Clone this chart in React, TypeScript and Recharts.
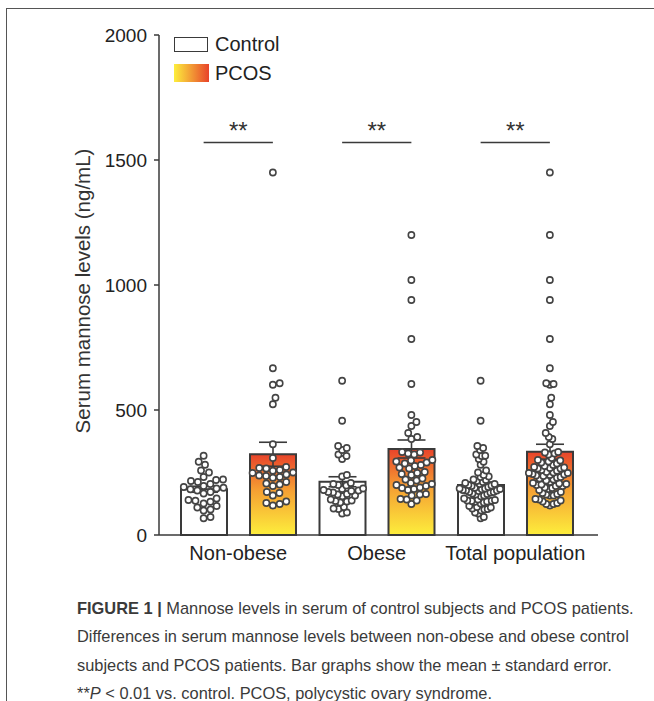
import {
  Bar,
  ComposedChart,
  ErrorBar,
  Legend,
  ReferenceLine,
  Scatter,
  XAxis,
  YAxis,
} from "recharts";

const groups = ["Non-obese", "Obese", "Total population"];
const controlMean = [183, 213, 200];
const controlSem = [12, 20, 12];
const pcosMean = [323, 344, 333];
const pcosSem = [48, 36, 30];

// individual subjects (ng/mL)
const nonObeseControl = [
  317, 293, 281, 258, 250, 232, 222, 216, 212, 220, 204, 192, 186, 196, 183,
  189, 178, 172, 166, 140, 126, 133, 137, 146, 116, 102, 98, 110, 72, 67,
];
const nonObesePcos = [
  1450, 667, 607, 601, 549, 523, 363, 308, 272, 266, 260, 268, 257, 248, 242,
  236, 238, 250, 232, 229, 212, 202, 196, 206, 168, 158, 172, 128, 118, 124,
  134,
];
const obeseControl = [
  617, 457, 356, 348, 340, 322, 316, 304, 240, 234, 208, 204, 200, 198, 184,
  180, 176, 172, 186, 170, 178, 162, 158, 155, 164, 138, 134, 130, 142, 136,
  112, 106, 104, 90, 86,
];
const obesePcos = [
  1200, 1020, 940, 784, 604, 480, 452, 436, 408, 392, 384, 332, 326, 322, 330,
  298, 294, 290, 286, 300, 276, 270, 266, 280, 248, 244, 240, 252, 226, 222,
  218, 208, 204, 200, 196, 188, 184, 180, 190, 164, 158, 162, 144, 138, 142,
  124,
];
const totalControl = [...nonObeseControl, ...obeseControl];
const totalPcos = [...nonObesePcos, ...obesePcos];

const yTicks = [0, 500, 1000, 1500, 2000];
const sigLevel = 1570;

const data = groups.map((g, i) => ({
  group: g,
  control: controlMean[i],
  controlErr: controlSem[i],
  pcos: pcosMean[i],
  pcosErr: pcosSem[i],
}));

// beeswarm layout (pixel space -> numeric x units)
const DOT_GAP = 7;
const MAX_HALF = 21;
const PX_PER_VAL = 500 / 2000;
const PX_PER_BAND = 138.5;

function swarm(values: number[], centre: number) {
  const placed: { x: number; y: number }[] = [];
  const sorted = [...values].sort((a, b) => a - b);
  sorted.forEach((v) => {
    const y = v * PX_PER_VAL;
    const near = placed.filter((p) => Math.abs(p.y - y) < DOT_GAP);
    const cands = [0];
    near.forEach((p) => {
      const dx = Math.sqrt(DOT_GAP * DOT_GAP - (p.y - y) ** 2);
      cands.push(p.x + dx, p.x - dx);
    });
    cands.sort((a, b) => Math.abs(a) - Math.abs(b));
    const x =
      cands.find((c) =>
        near.every((p) => Math.hypot(p.x - c, p.y - y) >= DOT_GAP - 0.01)
      ) ?? 0;
    placed.push({ x, y });
  });
  const widest = Math.max(...placed.map((p) => Math.abs(p.x)), 1);
  const k = widest > MAX_HALF ? MAX_HALF / widest : 1;
  return placed.map((p, i) => ({
    x: centre + (p.x * k) / PX_PER_BAND,
    y: sorted[i],
  }));
}

const dots = [
  ...swarm(nonObeseControl, 0.25),
  ...swarm(nonObesePcos, 0.75),
  ...swarm(obeseControl, 1.25),
  ...swarm(obesePcos, 1.75),
  ...swarm(totalControl, 2.25),
  ...swarm(totalPcos, 2.75),
];

const ink = "#3a3a3a";
const font = "'Liberation Sans', Arial, sans-serif";

const Dot = (props: any) => (
  <circle
    cx={props.cx}
    cy={props.cy}
    r={3.1}
    fill="#fff"
    stroke="#444"
    strokeWidth={1.6}
  />
);

const LegendBox = () => (
  <div style={{ fontFamily: font, fontSize: 20, color: "#222" }}>
    <div style={{ display: "flex", alignItems: "center", height: 16 }}>
      <span
        style={{
          width: 32,
          height: 13,
          border: `1.5px solid ${ink}`,
          background: "#fff",
          marginRight: 7,
        }}
      />
      Control
    </div>
    <div
      style={{ display: "flex", alignItems: "center", height: 18, marginTop: 12 }}
    >
      <span
        style={{
          width: 35,
          height: 18,
          background: "linear-gradient(to right, #fdee3c, #f29a35, #e8432a)",
          marginRight: 6,
        }}
      />
      PCOS
    </div>
  </div>
);

const YLabel = (p: any) => {
  const vb = p.viewBox;
  const x = vb.x + 3;
  const y = vb.y + vb.height / 2 + 6;
  return (
    <text
      x={x}
      y={y}
      transform={`rotate(-90, ${x}, ${y})`}
      textAnchor="middle"
      dominantBaseline="central"
      fontSize={20.5}
      fontFamily={font}
      fill="#333"
    >
      Serum mannose levels (ng/mL)
    </text>
  );
};

export default function App() {
  return (
    <div
      style={{
        position: "absolute",
        left: 0,
        top: 0,
        width: 654,
        height: 701,
        background: "#fff",
        overflow: "hidden",
      }}
    >
      <div
        style={{
          position: "absolute",
          left: 6,
          top: 8,
          right: -2,
          bottom: -2,
          borderTop: "1.5px solid #555",
          borderLeft: "1.5px solid #555",
        }}
      />
      <div style={{ position: "absolute", left: 0, top: 0 }}>
        <ComposedChart
          width={654}
          height={580}
          data={data}
          margin={{ top: 35, right: 56, left: 79, bottom: 9 }}
          barSize={46}
          barGap={23}
        >
          <defs>
            <linearGradient id="pcosFill" x1="0" y1="0" x2="0" y2="1">
              <stop offset="0%" stopColor="#e8432a" />
              <stop offset="45%" stopColor="#f5a033" />
              <stop offset="100%" stopColor="#fdee3c" />
            </linearGradient>
          </defs>
          <XAxis
            xAxisId="b"
            dataKey="group"
            height={30}
            axisLine={false}
            tickLine={false}
            tickSize={0}
            tickMargin={5}
            padding={{ left: 10, right: 13.5 }}
            tick={{ fill: "#222", fontSize: 20, fontFamily: font }}
            interval={0}
          />
          <XAxis
            xAxisId="a"
            type="number"
            dataKey="x"
            domain={[0, 3]}
            ticks={[0.25, 0.75, 1.25, 1.75, 2.25, 2.75]}
            tick={false}
            height={6}
            tickSize={5}
            padding={{ left: 10, right: 13.5 }}
            axisLine={{ stroke: ink, strokeWidth: 1.5 }}
            tickLine={{ stroke: ink, strokeWidth: 1.5 }}
          />
          <YAxis
            domain={[0, 2000]}
            ticks={yTicks}
            width={80}
            tickSize={5}
            tickMargin={7}
            axisLine={{ stroke: ink, strokeWidth: 1.5 }}
            tickLine={{ stroke: ink, strokeWidth: 1.5 }}
            tick={{ fill: "#222", fontSize: 19, fontFamily: font }}
            label={{ content: YLabel }}
          />
          <Legend
            layout="horizontal"
            verticalAlign="middle"
            align="center"
            content={() => <LegendBox />}
            wrapperStyle={{ top: 36, left: 174, width: "auto" }}
          />
          <Bar
            xAxisId="b"
            dataKey="control"
            name="Control"
            fill="#fff"
            stroke={ink}
            strokeWidth={2}
            isAnimationActive={false}
          >
            <ErrorBar
              dataKey="controlErr"
              width={14}
              stroke={ink}
              strokeWidth={1.6}
              direction="y"
            />
          </Bar>
          <Bar
            xAxisId="b"
            dataKey="pcos"
            name="PCOS"
            fill="url(#pcosFill)"
            stroke={ink}
            strokeWidth={2}
            isAnimationActive={false}
          >
            <ErrorBar
              dataKey="pcosErr"
              width={14}
              stroke={ink}
              strokeWidth={1.6}
              direction="y"
            />
          </Bar>
          {[0, 1, 2].map((i) => (
            <ReferenceLine
              key={i}
              xAxisId="a"
              segment={[
                { x: i + 0.25, y: sigLevel },
                { x: i + 0.75, y: sigLevel },
              ]}
              stroke={ink}
              strokeWidth={1.6}
              label={{
                value: "**",
                position: "top",
                offset: 4,
                fontSize: 24,
                fontFamily: font,
                fill: "#333",
              }}
            />
          ))}
          <Scatter
            xAxisId="a"
            data={dots}
            dataKey="y"
            shape={Dot}
            isAnimationActive={false}
            legendType="none"
          />
        </ComposedChart>
      </div>
      <div
        style={{
          position: "absolute",
          left: 77,
          top: 594,
          fontFamily: font,
          fontSize: 16.4,
          lineHeight: "28.3px",
          color: "#3a3a3a",
          whiteSpace: "nowrap",
        }}
      >
        <div>
          <b>FIGURE 1 |</b> Mannose levels in serum of control subjects and PCOS
          patients.
        </div>
        <div>
          Differences in serum mannose levels between non-obese and obese control
        </div>
        <div>
          subjects and PCOS patients. Bar graphs show the mean ± standard error.
        </div>
        <div>
          **<i>P</i> &lt; 0.01 vs. control. PCOS, polycystic ovary syndrome.
        </div>
      </div>
    </div>
  );
}
